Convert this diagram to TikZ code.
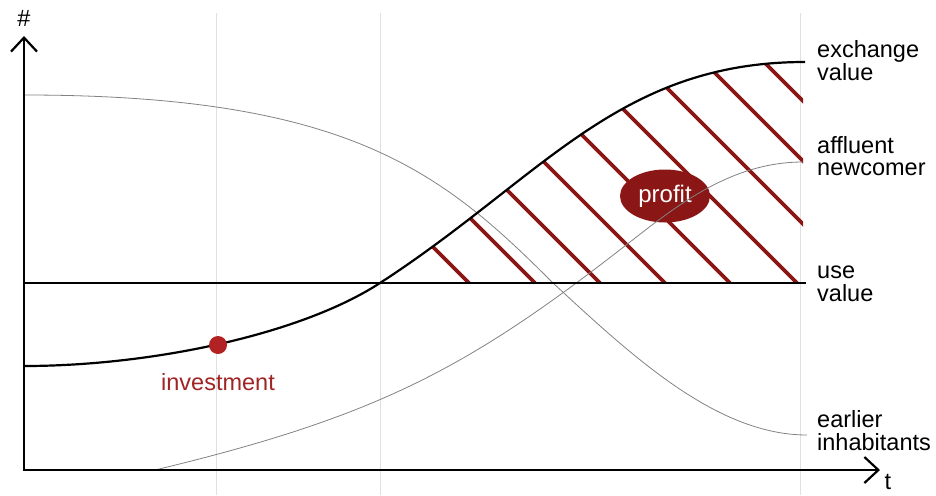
\documentclass[tikz,border=0pt]{standalone}
\usepackage{fontspec}
\setmainfont{Liberation Sans}
\usetikzlibrary{arrows.meta,shapes.geometric}
\definecolor{hatchred}{RGB}{139,22,22}
\definecolor{dotred}{RGB}{178,34,34}
\definecolor{labelred}{RGB}{160,36,36}
\definecolor{gridgray}{RGB}{224,224,224}
\definecolor{curvegray}{RGB}{130,130,130}
\tikzset{
  gridline/.style={draw=gridgray, line width=1pt},
  thincurve/.style={draw=curvegray, line width=0.8pt},
  thickline/.style={draw=black, line width=2.2pt},
  hatchline/.style={draw=hatchred, line width=3.6pt},
  axisline/.style={draw=black, line width=2.2pt, line join=miter,
    {Straight Barb[length=14pt,width=26pt]}-{Straight Barb[length=14pt,width=26pt]}},
  lbl/.style={font=\fontsize{23.5}{22}\selectfont, inner sep=0pt, anchor=base west},
}
\begin{document}
\begin{tikzpicture}[x=1pt,y=-1pt]
\useasboundingbox (0,0) rectangle (936,495);
% grid
\foreach \gx/\gn in {216/a,380/b,800/c}{
  \coordinate (g\gn1) at (\gx,13);
  \coordinate (g\gn2) at (\gx,495);
  \draw[gridline] (g\gn1) -- (g\gn2);
}
% key points of the exchange value curve
\coordinate (e0) at (24,366);
\coordinate (e1) at (380,283);
\coordinate (e2) at (805,62);
% hatch region
\begin{scope}
\clip (e1) .. controls (542,178) and (618,62) .. (e2) -- (803,62) -- (803,283) -- cycle;
\foreach \b [count=\i] in {469,535,600,665,730,797,862,925,985}{
  \coordinate (h\i a) at (\b-240,43);
  \coordinate (h\i b) at (\b,283);
  \draw[hatchline] (h\i a) -- (h\i b);
}
\end{scope}
% profit
\node[ellipse, fill=hatchred, minimum width=90pt, minimum height=53pt, inner sep=0pt,
  text=white, font=\fontsize{24}{24}\selectfont] (profit) at (665,196) {\raisebox{1pt}{profit}};
% earlier inhabitants
\coordinate (i0) at (24,95);
\coordinate (i1) at (553,283);
\coordinate (i2) at (807,435);
\draw[thincurve] (i0) .. controls (350,95) and (443,173) .. (i1)
                      .. controls (633,357) and (717,435) .. (i2);
% affluent newcomer
\coordinate (a0) at (155,470);
\coordinate (a1) at (630,242);
\coordinate (a2) at (803,162);
\draw[thincurve] (a0) .. controls (380,416) and (470,367) .. (a1)
                      .. controls (680,203) and (733,162) .. (a2);
% use value
\coordinate (uv0) at (24,283);
\coordinate (uv1) at (806,283);
\draw[thickline] (uv0) -- (uv1);
% exchange value
\draw[thickline] (e0) .. controls (150,366) and (300,335) .. (e1)
                      .. controls (542,178) and (618,62) .. (e2);
% axes
\coordinate (xend) at (880,470);
\coordinate (O) at (24,470);
\coordinate (ytop) at (24,36);
\draw[axisline] (xend) -- (O) -- (ytop);
% investment
\node[circle, fill=dotred, minimum size=18pt, inner sep=0pt] (dot) at (218,345) {};
\node[lbl, anchor=base, text=labelred] (inv) at (218,390) {investment};
% axis labels
\node[lbl, anchor=base] (hash) at (24,27) {\#};
\node[lbl, anchor=base] (tlab) at (888,489) {t};
% right labels
\node[lbl] (ex1) at (817,58) {exchange};
\node[lbl] (ex2) at (817,80) {value};
\node[lbl] (af1) at (817,153) {affluent};
\node[lbl] (af2) at (817,175) {newcomer};
\node[lbl] (us1) at (817,278) {use};
\node[lbl] (us2) at (817,301) {value};
\node[lbl] (ea1) at (817,427) {earlier};
\node[lbl] (ea2) at (817,450) {inhabitants};
\end{tikzpicture}
\end{document}
